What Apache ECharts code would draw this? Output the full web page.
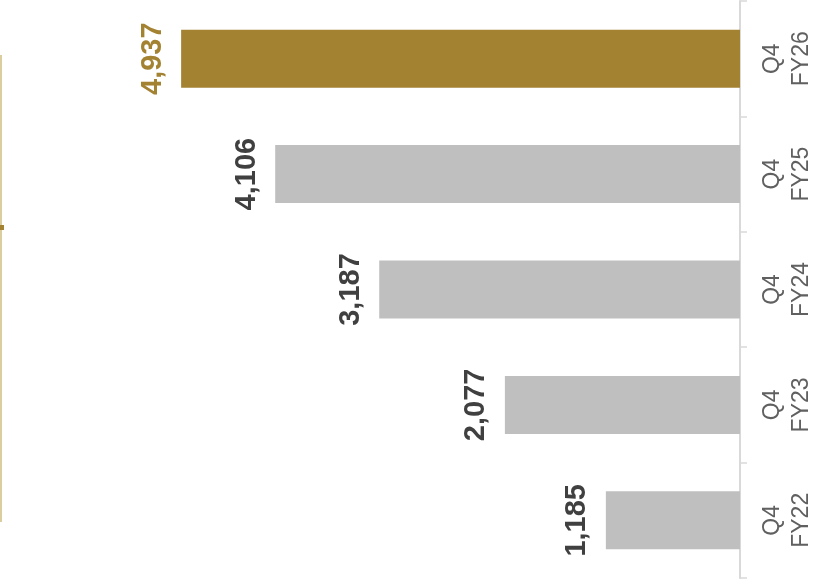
<!DOCTYPE html>
<html>
<head>
<meta charset="utf-8">
<script src="https://cdn.jsdelivr.net/npm/echarts@6/dist/echarts.min.js"></script>
<style>html,body{margin:0;padding:0;background:#fff}#c{width:814px;height:588px}</style>
</head>
<body>
<div id="c"></div>
<script>
var categories = ['Q4\nFY22', 'Q4\nFY23', 'Q4\nFY24', 'Q4\nFY25', 'Q4\nFY26'];
var values = [1185, 2077, 3187, 4106, 4937];
var highlightIndex = 4;

var chart = echarts.init(document.getElementById('c'), null, {renderer: 'canvas'});
var data = values.map(function (v, i) {
  var hi = i === highlightIndex;
  return {
    value: v,
    itemStyle: {color: hi ? '#a38232' : '#bfbfbf'},
    label: {color: hi ? '#a38232' : '#404040'}
  };
});
chart.setOption({
  animation: false,
  grid: {left: 174, right: 74, top: 1, bottom: 10, containLabel: false, outerBoundsMode: 'none'},
  xAxis: {type: 'value', min: 0, max: 5000, inverse: true, show: false},
  yAxis: {
    type: 'category', data: categories, position: 'right',
    axisLine: {lineStyle: {color: '#d9d9d9', width: 2}},
    axisTick: {show: true, length: 7, lineStyle: {color: '#d9d9d9', width: 1.5}},
    axisLabel: {
      rotate: 90, margin: 18, color: '#606060',
      fontFamily: 'Liberation Sans, Arial, sans-serif', fontSize: 23, lineHeight: 29
    }
  },
  series: [{
    type: 'bar', data: data, barWidth: 58,
    label: {
      show: true, position: 'left', distance: 14, rotate: 90,
      align: 'center', verticalAlign: 'bottom',
      fontFamily: 'Liberation Sans, Arial, sans-serif', fontWeight: 'bold', fontSize: 29,
      formatter: function (p) { return p.value.toLocaleString('en-US'); }
    }
  }],
  graphic: [
    {type: 'line', shape: {x1: 1, y1: 55, x2: 1, y2: 522}, style: {stroke: '#dccd9f', lineWidth: 2}},
    {type: 'rect', shape: {x: 0, y: 225, width: 4, height: 5}, style: {fill: '#a38232'}}
  ]
});
</script>
</body>
</html>
